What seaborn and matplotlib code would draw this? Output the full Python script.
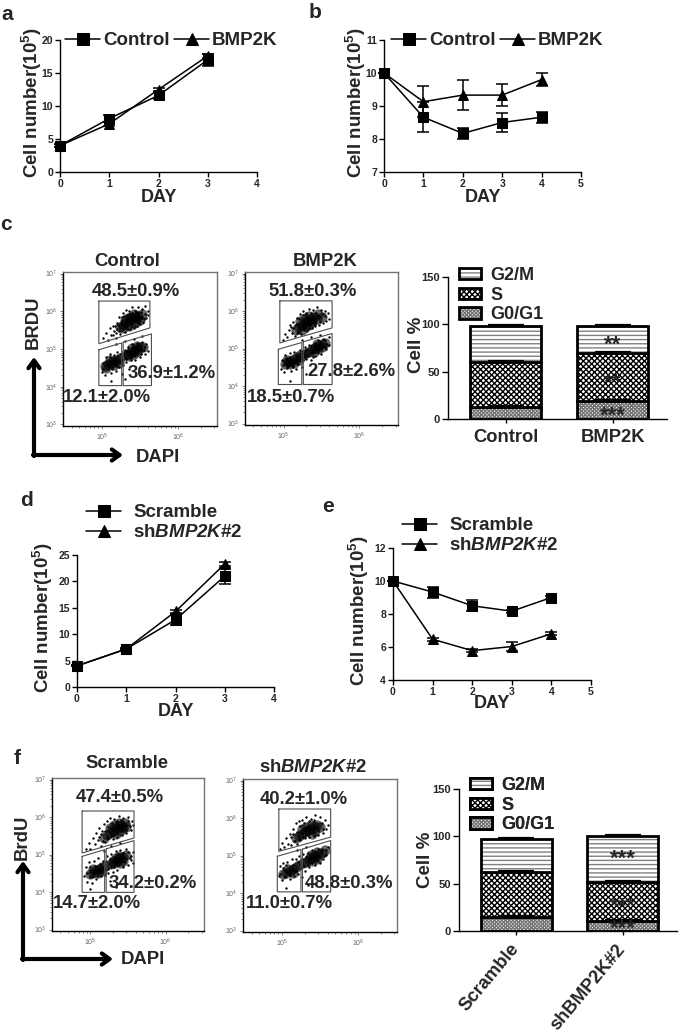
import matplotlib
matplotlib.use("Agg")
import matplotlib.pyplot as plt
from matplotlib.legend_handler import HandlerTuple
from matplotlib.patches import Patch
import seaborn as sns

# Growth curves (days, mean, error)
DAYS_A = [0, 1, 2, 3]
DAYS_B = [0, 1, 2, 3, 4]

A_CONTROL = [4, 8.1, 11.6, 17.0]
A_CONTROL_ERR = [0.2, 0.5, 0.5, 0.9]
A_BMP2K = [4, 7.3, 12.5, 17.6]
A_BMP2K_ERR = [0.2, 0.3, 0.3, 0.3]

B_CONTROL = [10, 8.66, 8.17, 8.5, 8.66]
B_CONTROL_ERR = [0, 0.45, 0.17, 0.3, 0.17]
B_BMP2K = [10, 9.13, 9.33, 9.33, 9.8]
B_BMP2K_ERR = [0, 0.47, 0.45, 0.33, 0.2]

D_SCRAMBLE = [4, 7.2, 12.75, 21.0]
D_SCRAMBLE_ERR = [0.1, 0.2, 1.0, 1.5]
D_SH = [4, 7.2, 14.3, 23.3]
D_SH_ERR = [0.1, 0.2, 0.3, 0.3]

E_SCRAMBLE = [10, 9.33, 8.5, 8.17, 9.0]
E_SCRAMBLE_ERR = [0, 0.33, 0.33, 0.1, 0.1]
E_SH = [10, 6.47, 5.78, 6.03, 6.8]
E_SH_ERR = [0, 0.1, 0.1, 0.27, 0.1]

# Cell cycle stacks
C_CATS = ["Control", "BMP2K"]
C_G0 = [12.7, 18.7]
C_S = [47.5, 51.3]
C_G2 = [37.7, 28.0]
F_CATS = ["Scramble", "shBMP2K#2"]
F_G0 = [14.8, 10.2]
F_S = [47.7, 41.8]
F_G2 = [34.3, 48.0]
PHASES = ["G2/M", "S", "G0/G1"]

# Flow plots, values are log10 of signal. Core = dense part of the clouds.
GATES_CL = [[(4.96, 6.27), (5.63, 6.27), (5.63, 5.56), (4.96, 5.14)],
            [(4.96, 4.98), (5.26, 5.16), (5.26, 4.03), (4.96, 4.03)],
            [(5.28, 5.18), (5.65, 5.40), (5.65, 4.03), (5.28, 4.03)]]
GATES_CR = [[(4.95, 6.27), (5.64, 6.27), (5.64, 5.55), (4.95, 5.15)],
            [(4.93, 4.98), (5.24, 5.16), (5.24, 4.04), (4.93, 4.04)],
            [(5.26, 5.18), (5.64, 5.40), (5.64, 4.04), (5.26, 4.04)]]
GATES_FL = [[(4.89, 6.16), (5.58, 6.16), (5.58, 5.44), (4.89, 5.04)],
            [(4.89, 4.95), (5.19, 5.13), (5.19, 3.99), (4.89, 3.99)],
            [(5.21, 5.15), (5.58, 5.37), (5.58, 3.99), (5.21, 3.99)]]
GATES_FR = [[(4.96, 6.24), (5.64, 6.24), (5.64, 5.49), (4.96, 5.11)],
            [(4.94, 4.98), (5.25, 5.16), (5.25, 4.03), (4.94, 4.03)],
            [(5.27, 5.17), (5.64, 5.40), (5.64, 4.03), (5.27, 4.03)]]

CORE_CL = [(5.24, 5.58), (5.28, 5.64), (5.32, 5.70), (5.36, 5.74), (5.40, 5.78), (5.44, 5.84), (5.48, 5.88),
           (5.52, 5.92), (5.30, 5.76), (5.34, 5.82), (5.38, 5.86), (5.42, 5.92), (5.46, 5.80), (5.28, 5.55),
           (5.36, 5.62), (5.44, 5.68), (5.50, 5.76), (5.30, 4.84), (5.34, 4.88), (5.38, 4.92), (5.42, 4.96),
           (5.46, 5.00), (5.50, 5.04), (5.54, 5.06), (5.36, 4.82), (5.42, 4.88), (5.48, 4.94), (5.40, 5.02),
           (5.46, 5.08), (5.04, 4.56), (5.08, 4.60), (5.12, 4.64), (5.16, 4.68), (5.20, 4.72), (5.24, 4.76),
           (5.10, 4.70), (5.16, 4.58), (5.22, 4.64), (5.06, 4.50)]
DOTS_CL = [(5.02, 5.30), (5.05, 5.42), (5.08, 5.25), (5.10, 5.55), (5.12, 5.38), (5.14, 5.62), (5.16, 5.48),
           (5.18, 5.30), (5.20, 5.70), (5.20, 5.52), (5.22, 5.86), (5.24, 5.40), (5.26, 5.78), (5.28, 5.96),
           (5.30, 5.46), (5.32, 6.04), (5.34, 5.52), (5.36, 6.00), (5.38, 5.58), (5.40, 6.10), (5.42, 5.56),
           (5.44, 6.02), (5.46, 5.62), (5.48, 6.12), (5.50, 5.66), (5.52, 6.06), (5.54, 5.72), (5.56, 6.14),
           (5.58, 5.82), (5.60, 6.00), (5.60, 5.90), (5.18, 5.12), (5.30, 5.20), (5.42, 5.26), (5.52, 5.34),
           (5.00, 4.40), (5.02, 4.62), (5.04, 4.30), (5.06, 4.78), (5.08, 4.46), (5.10, 4.86), (5.12, 4.36),
           (5.14, 4.52), (5.16, 4.84), (5.18, 4.42), (5.20, 4.92), (5.22, 4.52), (5.24, 4.88), (5.26, 4.34),
           (5.28, 4.58), (5.30, 4.98), (5.32, 4.66), (5.34, 5.06), (5.36, 4.48), (5.38, 4.70), (5.40, 5.12),
           (5.44, 4.72), (5.46, 5.16), (5.50, 4.78), (5.52, 5.18), (5.56, 4.86), (5.58, 5.12), (5.60, 4.96),
           (5.12, 4.14), (5.30, 4.20),
           (5.17, 5.60), (5.21, 5.63), (5.23, 5.47), (5.27, 5.84), (5.31, 5.58), (5.33, 5.90), (5.37, 5.53),
           (5.39, 5.96), (5.43, 5.62), (5.45, 5.98), (5.49, 5.68), (5.51, 5.98), (5.55, 5.80), (5.57, 5.94),
           (5.25, 5.70), (5.19, 5.42), (5.15, 5.36), (5.29, 5.88), (5.35, 5.92), (5.47, 5.96),
           (5.01, 4.48), (5.05, 4.66), (5.09, 4.52), (5.11, 4.78), (5.13, 4.46), (5.17, 4.76), (5.19, 4.56),
           (5.21, 4.82), (5.25, 4.62), (5.27, 4.72), (5.29, 4.90), (5.31, 4.74), (5.33, 4.96), (5.37, 4.76),
           (5.39, 5.04), (5.43, 4.82), (5.47, 5.10), (5.51, 4.88), (5.55, 4.98), (5.57, 5.04)]

CORE_CR = [(5.16, 5.50), (5.20, 5.58), (5.24, 5.64), (5.28, 5.70), (5.32, 5.74), (5.36, 5.80), (5.40, 5.84),
           (5.22, 5.74), (5.28, 5.82), (5.34, 5.88), (5.38, 5.70), (5.44, 5.78), (5.50, 5.84), (5.30, 5.60),
           (5.24, 5.50), (5.34, 5.64), (5.46, 5.92), (5.30, 4.88), (5.34, 4.92), (5.38, 4.98), (5.42, 5.02),
           (5.46, 5.06), (5.50, 5.12), (5.54, 5.16), (5.40, 4.92), (5.46, 4.98), (5.44, 5.12), (5.50, 5.04),
           (5.02, 4.60), (5.06, 4.64), (5.10, 4.68), (5.14, 4.72), (5.18, 4.78), (5.22, 4.82), (5.26, 4.84),
           (5.08, 4.58), (5.14, 4.62), (5.04, 4.70), (5.20, 4.70)]
DOTS_CR = [(4.99, 5.22), (5.02, 5.38), (5.05, 5.30), (5.07, 5.50), (5.09, 5.64), (5.11, 5.42), (5.13, 5.72),
           (5.15, 5.34), (5.17, 5.82), (5.19, 5.44), (5.21, 5.92), (5.23, 5.38), (5.25, 6.00), (5.27, 5.50),
           (5.29, 5.96), (5.31, 5.48), (5.33, 6.06), (5.37, 5.54), (5.39, 6.02), (5.42, 5.60), (5.44, 6.10),
           (5.47, 5.64), (5.49, 6.04), (5.52, 5.68), (5.54, 6.00), (5.56, 5.74), (5.58, 5.96), (5.60, 5.80),
           (5.24, 5.24), (5.36, 5.30), (5.48, 5.36), (4.96, 4.46), (4.98, 4.70), (5.00, 4.38), (5.02, 4.82),
           (5.05, 4.48), (5.08, 4.88), (5.10, 4.40), (5.12, 4.54), (5.14, 4.92), (5.16, 4.46), (5.19, 4.60),
           (5.22, 4.96), (5.24, 4.50), (5.26, 4.70), (5.28, 5.04), (5.30, 4.72), (5.33, 5.10), (5.36, 4.70),
           (5.39, 4.78), (5.42, 4.80), (5.45, 5.22), (5.49, 4.86), (5.52, 5.26), (5.56, 4.98), (5.60, 5.10),
           (5.60, 5.30), (5.08, 4.14), (5.30, 4.32),
           (5.12, 5.54), (5.15, 5.62), (5.18, 5.42), (5.20, 5.78), (5.26, 5.56), (5.30, 5.90), (5.33, 5.56),
           (5.36, 5.94), (5.41, 5.66), (5.43, 5.96), (5.48, 5.72), (5.52, 5.92), (5.55, 5.86), (5.10, 5.58),
           (5.26, 5.90), (5.18, 5.66), (5.42, 5.72),
           (4.99, 4.56), (5.03, 4.76), (5.06, 4.54), (5.09, 4.78), (5.12, 4.50), (5.16, 4.84), (5.18, 4.58),
           (5.24, 4.90), (5.22, 4.66), (5.28, 4.78), (5.30, 4.96), (5.32, 4.84), (5.36, 5.06), (5.39, 4.88),
           (5.42, 5.14), (5.46, 4.90), (5.48, 5.18), (5.53, 5.06), (5.57, 5.12), (5.55, 5.22)]

CORE_FL = [(5.18, 5.44), (5.22, 5.52), (5.26, 5.58), (5.30, 5.64), (5.34, 5.70), (5.38, 5.76), (5.42, 5.80),
           (5.46, 5.84), (5.26, 5.72), (5.32, 5.78), (5.38, 5.84), (5.44, 5.72), (5.40, 5.62), (5.34, 5.56),
           (5.48, 5.74), (5.28, 4.74), (5.32, 4.78), (5.36, 4.84), (5.40, 4.90), (5.44, 4.94), (5.48, 4.98),
           (5.34, 4.90), (5.40, 4.78), (5.44, 4.84), (5.30, 4.84), (5.38, 4.96), (5.00, 4.48), (5.04, 4.52),
           (5.08, 4.58), (5.12, 4.62), (5.16, 4.66), (5.20, 4.70), (5.04, 4.62), (5.10, 4.50), (5.16, 4.56)]
DOTS_FL = [(4.94, 5.16), (4.98, 5.30), (5.00, 5.14), (5.03, 5.44), (5.06, 5.28), (5.08, 5.58), (5.10, 5.40),
           (5.12, 5.70), (5.14, 5.24), (5.16, 5.62), (5.18, 5.82), (5.20, 5.34), (5.22, 5.90), (5.24, 5.44),
           (5.26, 5.98), (5.30, 5.42), (5.32, 5.96), (5.36, 5.46), (5.38, 6.02), (5.42, 5.52), (5.44, 5.98),
           (5.48, 5.58), (5.50, 6.00), (5.54, 5.66), (5.55, 5.90), (5.56, 5.80), (5.18, 5.10), (5.28, 5.22),
           (5.40, 5.30), (4.92, 4.42), (4.94, 4.68), (4.96, 4.28), (4.98, 4.80), (5.00, 4.40), (5.02, 4.24),
           (5.05, 4.82), (5.08, 4.36), (5.10, 4.90), (5.14, 4.42), (5.17, 4.84), (5.20, 4.46), (5.22, 4.96),
           (5.24, 4.52), (5.26, 4.30), (5.28, 5.02), (5.30, 4.54), (5.34, 5.10), (5.36, 4.60), (5.40, 5.12),
           (5.44, 4.66), (5.48, 5.14), (5.50, 4.72), (5.54, 4.96), (5.56, 5.08), (5.56, 4.78), (5.00, 4.08),
           (5.34, 4.14),
           (5.12, 5.48), (5.14, 5.56), (5.20, 5.62), (5.17, 5.36), (5.24, 5.74), (5.28, 5.50), (5.29, 5.84),
           (5.36, 5.58), (5.35, 5.90), (5.42, 5.64), (5.41, 5.92), (5.47, 5.66), (5.50, 5.90), (5.52, 5.76),
           (5.22, 5.44), (5.32, 5.52),
           (4.96, 4.52), (4.99, 4.66), (5.02, 4.44), (5.06, 4.70), (5.10, 4.44), (5.13, 4.74), (5.18, 4.52),
           (5.21, 4.82), (5.24, 4.62), (5.26, 4.88), (5.27, 4.66), (5.31, 4.94), (5.32, 4.68), (5.37, 5.02),
           (5.38, 4.72), (5.43, 5.04), (5.46, 4.80), (5.50, 5.06), (5.52, 4.90), (5.54, 4.86)]

CORE_FR = [(5.18, 5.46), (5.22, 5.52), (5.26, 5.58), (5.30, 5.62), (5.34, 5.68), (5.38, 5.72), (5.42, 5.78),
           (5.46, 5.82), (5.26, 5.70), (5.32, 5.76), (5.38, 5.82), (5.44, 5.66), (5.40, 5.58), (5.50, 5.76),
           (5.28, 4.80), (5.32, 4.84), (5.36, 4.90), (5.40, 4.94), (5.44, 4.98), (5.48, 5.02), (5.52, 5.06),
           (5.40, 4.86), (5.46, 4.92), (5.38, 5.02), (5.46, 5.10), (5.56, 5.14), (5.02, 4.50), (5.06, 4.54),
           (5.10, 4.60), (5.14, 4.64), (5.18, 4.70), (5.22, 4.74), (5.08, 4.64), (5.14, 4.54)]
DOTS_FR = [(4.98, 5.18), (5.00, 5.34), (5.03, 5.22), (5.05, 5.46), (5.08, 5.32), (5.10, 5.58), (5.12, 5.28),
           (5.14, 5.70), (5.16, 5.38), (5.18, 5.86), (5.20, 5.30), (5.22, 5.92), (5.24, 5.42), (5.26, 5.96),
           (5.30, 5.46), (5.32, 6.02), (5.36, 5.50), (5.38, 5.98), (5.42, 5.52), (5.44, 6.08), (5.48, 5.56),
           (5.50, 6.02), (5.54, 5.60), (5.56, 5.94), (5.58, 5.70), (5.60, 5.82), (5.20, 5.16), (5.32, 5.24),
           (4.96, 4.46), (4.98, 4.72), (5.00, 4.36), (5.02, 4.80), (5.04, 4.42), (5.07, 4.84), (5.10, 4.38),
           (5.13, 4.90), (5.16, 4.46), (5.19, 4.92), (5.21, 4.52), (5.23, 4.98), (5.26, 4.44), (5.28, 5.04),
           (5.30, 4.60), (5.34, 5.08), (5.36, 4.70), (5.40, 5.14), (5.44, 4.74), (5.48, 5.18), (5.50, 4.80),
           (5.54, 4.90), (5.58, 5.02), (5.60, 5.24), (5.06, 4.14), (5.34, 4.22),
           (5.12, 5.50), (5.14, 5.58), (5.20, 5.64), (5.17, 5.40), (5.24, 5.80), (5.28, 5.50), (5.29, 5.88),
           (5.35, 5.58), (5.36, 5.92), (5.42, 5.62), (5.42, 5.94), (5.48, 5.66), (5.52, 5.88), (5.54, 5.72),
           (5.23, 5.44), (5.31, 5.54),
           (4.98, 4.52), (5.01, 4.66), (5.04, 4.46), (5.06, 4.74), (5.11, 4.48), (5.14, 4.76), (5.18, 4.58),
           (5.21, 4.84), (5.25, 4.66), (5.26, 4.90), (5.29, 4.72), (5.31, 4.96), (5.34, 4.76), (5.38, 5.08),
           (5.40, 4.80), (5.44, 5.12), (5.47, 4.86), (5.52, 5.14), (5.55, 5.00), (5.58, 5.16)]

BAR_HATCH = {"G0/G1": "xxxxxxxxx", "S": "xxxxxx", "G2/M": "----"}
HATCH_COLOR = {"G0/G1": "0.45", "S": "black", "G2/M": "0.5"}

WIDTH, HEIGHT = 685, 1032
FONT = "Liberation Sans"

sns.set_style("ticks")
plt.rcParams["font.family"] = FONT
plt.rcParams["font.weight"] = "bold"
plt.rcParams["mathtext.fontset"] = "custom"
plt.rcParams["mathtext.rm"] = FONT
plt.rcParams["mathtext.bf"] = FONT + ":bold"
plt.rcParams["mathtext.bfit"] = FONT + ":italic:bold"
plt.rcParams["hatch.linewidth"] = 1.0

fig = plt.figure(figsize=(WIDTH / 100, HEIGHT / 100), dpi=100)

YLABEL = r"Cell number(10$^{\mathbf{5}}$)"
SH_LABEL = r"sh$\mathbfit{BMP2K}$#2"


def px_axes(left, top, right, bottom):
    return fig.add_axes([left / WIDTH, 1 - bottom / HEIGHT, (right - left) / WIDTH, (bottom - top) / HEIGHT])


def line_panel(box, days, first, first_err, second, second_err, names, xmax, ylim, yticks, label_x, day_y):
    ax = px_axes(*box)
    sns.lineplot(x=days, y=second, marker="^", markersize=7, color="black", linewidth=1.1,
                 markeredgecolor="black", label=names[1], ax=ax)
    ax.errorbar(days, second, yerr=second_err, fmt="none", ecolor="black", elinewidth=1.1,
                capsize=4, capthick=1.1)
    sns.lineplot(x=days, y=first, marker="s", markersize=6.5, color="black", linewidth=1.1,
                 markeredgecolor="black", label=names[0], ax=ax)
    ax.errorbar(days, first, yerr=first_err, fmt="none", ecolor="black", elinewidth=1.1,
                capsize=4, capthick=1.1)
    for artist in ax.get_children():
        if hasattr(artist, "set_clip_on"):
            artist.set_clip_on(False)
    ax.set_xlim(0, xmax)
    ax.set_ylim(*ylim)
    ax.set_xticks(range(xmax + 1))
    ax.set_yticks(yticks)
    ax.tick_params(labelsize=7.5, width=1, length=3.5, pad=1.5, color="black")
    sns.despine(ax=ax)
    for side in ("left", "bottom"):
        ax.spines[side].set_linewidth(1)
        ax.spines[side].set_color("black")
    ax.get_legend().remove()
    ax.set_xlabel("")
    ax.set_ylabel("")
    over.text(box[0] + (box[2] - box[0]) / 2, day_y, "DAY", fontsize=13, ha="center", va="center")
    over.text(label_x, (box[1] + box[3]) / 2 - 3, YLABEL, fontsize=13.5, rotation=90, ha="center", va="center")
    return ax


def flow_panel(box, gates, core, dots):
    ax = px_axes(*box)
    sns.scatterplot(x=[10 ** p[0] for p in core], y=[10 ** p[1] for p in core], s=55, color="black",
                    alpha=0.6, linewidth=0, ax=ax)
    sns.scatterplot(x=[10 ** p[0] for p in dots], y=[10 ** p[1] for p in dots], s=3, color="black",
                    linewidth=0, ax=ax)
    for gate in gates:
        closed = gate + gate[:1]
        ax.plot([10 ** p[0] for p in closed], [10 ** p[1] for p in closed], color="0.3", linewidth=0.8)
    ax.set_xscale("log")
    ax.set_yscale("log")
    ax.set_xlim(10 ** 4.49, 10 ** 6.51)
    ax.set_ylim(10 ** 2.96, 10 ** 7.04)
    ax.tick_params(which="both", labelsize=5, labelcolor="0.4", color="0.35", width=0.5, pad=1.5)
    ax.tick_params(which="major", length=2.5)
    ax.tick_params(which="minor", length=1.2)
    ax.set_xticks([10 ** 5, 10 ** 6])
    for label in ax.get_xticklabels() + ax.get_yticklabels():
        label.set_fontweight("normal")
    for side in ("top", "right"):
        ax.spines[side].set_color("0.45")
    for side in ("left", "bottom"):
        ax.spines[side].set_color("black")
    for spine in ax.spines.values():
        spine.set_linewidth(1)
    return ax


def stack_panel(box, cats, g0, s, g2, stars, rotate):
    ax = px_axes(*box)
    bottoms = {"G0/G1": [0, 0],
               "S": g0,
               "G2/M": [a + b for a, b in zip(g0, s)]}
    heights = {"G0/G1": g0, "S": s, "G2/M": g2}
    for phase in ("G0/G1", "S", "G2/M"):
        # hatch takes the edge colour, so the black frame goes on as a second bar
        sns.barplot(x=cats, y=heights[phase], bottom=bottoms[phase], color="white", edgecolor=HATCH_COLOR[phase],
                    linewidth=0, hatch=BAR_HATCH[phase], width=0.67, saturation=1, errorbar=None, ax=ax)
        drawn = len(ax.patches)
        sns.barplot(x=cats, y=heights[phase], bottom=bottoms[phase], color="white", edgecolor="black",
                    linewidth=2, width=0.67, saturation=1, errorbar=None, ax=ax)
        for bar in ax.patches[drawn:]:
            bar.set_facecolor("none")
        tops = [a + b for a, b in zip(bottoms[phase], heights[phase])]
        ax.errorbar([0, 1], tops, yerr=[[0, 0], [1, 1]], fmt="none", ecolor="black", elinewidth=1.2,
                    capsize=13, capthick=1.6)
    for x, y, mark in stars:
        ax.text(x, y, mark, fontsize=16, ha="center", va="center")
    ax.set_xlim(-0.54, 1.51)
    ax.set_ylim(0, 150)
    ax.set_yticks([0, 50, 100, 150])
    ax.tick_params(axis="y", labelsize=8, width=1, length=4, pad=2, color="black")
    ax.tick_params(axis="x", labelsize=13.2, width=1, length=3, pad=8 if rotate else 4, color="black")
    if rotate:
        plt.setp(ax.get_xticklabels(), rotation=50, ha="right", va="center", rotation_mode="anchor")
    sns.despine(ax=ax)
    for side in ("left", "bottom"):
        ax.spines[side].set_linewidth(1)
        ax.spines[side].set_color("black")
    handles = [(Patch(facecolor="white", edgecolor=HATCH_COLOR[p], linewidth=0, hatch=BAR_HATCH[p]),
                Patch(facecolor="none", edgecolor="black", linewidth=2)) for p in PHASES]
    return ax, handles


# Overlay in reference pixels, for the free text and arrows
over = fig.add_axes([0, 0, 1, 1], zorder=10)
over.set_xlim(0, WIDTH)
over.set_ylim(HEIGHT, 0)
over.axis("off")

ax_a = line_panel((60, 40, 257, 172), DAYS_A, A_CONTROL, A_CONTROL_ERR, A_BMP2K, A_BMP2K_ERR,
                  ("Control", "BMP2K"), 4, (0, 20), [0, 5, 10, 15, 20], 32, 197)
ax_b = line_panel((384, 40, 581, 172), DAYS_B, B_CONTROL, B_CONTROL_ERR, B_BMP2K, B_BMP2K_ERR,
                  ("Control", "BMP2K"), 5, (7, 11), [7, 8, 9, 10, 11], 356, 197)
ax_d = line_panel((77, 555, 274, 687), DAYS_A, D_SCRAMBLE, D_SCRAMBLE_ERR, D_SH, D_SH_ERR,
                  ("Scramble", SH_LABEL), 4, (0, 25), [0, 5, 10, 15, 20, 25], 43, 712)
ax_e = line_panel((393, 548, 591, 680), DAYS_B, E_SCRAMBLE, E_SCRAMBLE_ERR, E_SH, E_SH_ERR,
                  ("Scramble", SH_LABEL), 5, (4, 12), [4, 6, 8, 10, 12], 359, 704)

for ax_ref, pos, ncol, pad in ((ax_a, (65, 32), 2, 0.15), (ax_b, (391, 32), 2, 0.15),
                               (ax_d, (86, 504), 1, 0.65), (ax_e, (402, 517), 1, 0.65)):
    h, l = ax_ref.get_legend_handles_labels()
    h, l = [h[1], h[0]], [l[1], l[0]]
    leg = over.legend(h, l, ncol=ncol, frameon=False, loc="upper left", bbox_to_anchor=pos,
                      bbox_transform=over.transData, fontsize=13.5, borderpad=0, borderaxespad=0,
                      handlelength=1.87, handletextpad=pad, columnspacing=0.25, labelspacing=0.15,
                      markerscale=1.3)
    over.add_artist(leg)

flow_panel((63, 272, 217, 426), GATES_CL, CORE_CL, DOTS_CL)
flow_panel((245, 272, 398, 425), GATES_CR, CORE_CR, DOTS_CR)
flow_panel((52, 778, 204, 931), GATES_FL, CORE_FL, DOTS_FL)
flow_panel((243, 779, 397, 932), GATES_FR, CORE_FR, DOTS_FR)

ax_c, leg_c = stack_panel((448, 277, 667, 419), C_CATS, C_G0, C_S, C_G2,
                          [(1, 78, "**"), (1, 38, "**"), (1, 2.5, "***")], False)
ax_f, leg_f = stack_panel((459, 789, 677, 931), F_CATS, F_G0, F_S, F_G2,
                          [(1, 76, "***"), (1, 25, "***"), (1, 1.5, "***")], True)
for handles, pos in ((leg_c, (459, 267)), (leg_f, (470, 777))):
    leg = over.legend(handles=handles, labels=PHASES, frameon=False, loc="upper left", bbox_to_anchor=pos,
                      bbox_transform=over.transData, fontsize=13, borderpad=0, borderaxespad=0,
                      handlelength=1.2, handleheight=0.6, handletextpad=0.55, labelspacing=0.15,
                      handler_map={tuple: HandlerTuple(ndivide=1, pad=0)})
    over.add_artist(leg)

free_text = [
    ("a", 7, 15, 15, 0), ("b", 315, 13, 15, 0), ("c", 6, 224, 15, 0),
    ("d", 27, 500, 15, 0), ("e", 328, 507, 15, 0), ("f", 17, 758, 15, 0),
    ("Control", 127, 262, 13.3, 0), ("BMP2K", 325, 261, 13.3, 0),
    ("Scramble", 127, 764, 13.3, 0), (SH_LABEL, 313, 767, 13.3, 0),
    ("48.5±0.9%", 136, 291, 13.3, 0), ("36.9±1.2%", 172, 374, 13.3, 0), ("12.1±2.0%", 107, 397, 13.3, 0),
    ("51.8±0.3%", 313, 291, 13.3, 0), ("27.8±2.6%", 351, 372, 13.3, 0), ("18.5±0.7%", 291, 397, 13.3, 0),
    ("47.4±0.5%", 120, 797, 13.3, 0), ("34.2±0.2%", 153, 883, 13.3, 0), ("14.7±2.0%", 97, 903, 13.3, 0),
    ("40.2±1.0%", 304, 799, 13.3, 0), ("48.8±0.3%", 349, 883, 13.3, 0), ("11.0±0.7%", 289, 903, 13.3, 0),
    ("BRDU", 33, 322, 13.3, 90), ("DAPI", 158, 457, 13.3, 0),
    ("BrdU", 22, 837, 13.3, 90), ("DAPI", 143, 960, 13.3, 0),
    ("Cell %", 417, 345, 13.5, 90), ("Cell %", 426, 860, 13.5, 90),
]
for text, x, y, size, rot in free_text:
    over.text(x, y, text, fontsize=size, rotation=rot, ha="center", va="center")

# Axis arrows next to the flow plots
ARROW = dict(arrowstyle="->,head_length=0.55,head_width=0.4", linewidth=3, color="black",
             shrinkA=0, shrinkB=0)
for corner, tip_up, tip_right in (((34, 455), (34, 357), (123, 455)), ((23, 959), (23, 861), (113, 959))):
    over.annotate("", xy=tip_up, xytext=(corner[0], corner[1] + 1), arrowprops=ARROW)
    over.annotate("", xy=tip_right, xytext=(corner[0] - 1, corner[1]), arrowprops=ARROW)

fig.savefig("out.png", dpi=100)
